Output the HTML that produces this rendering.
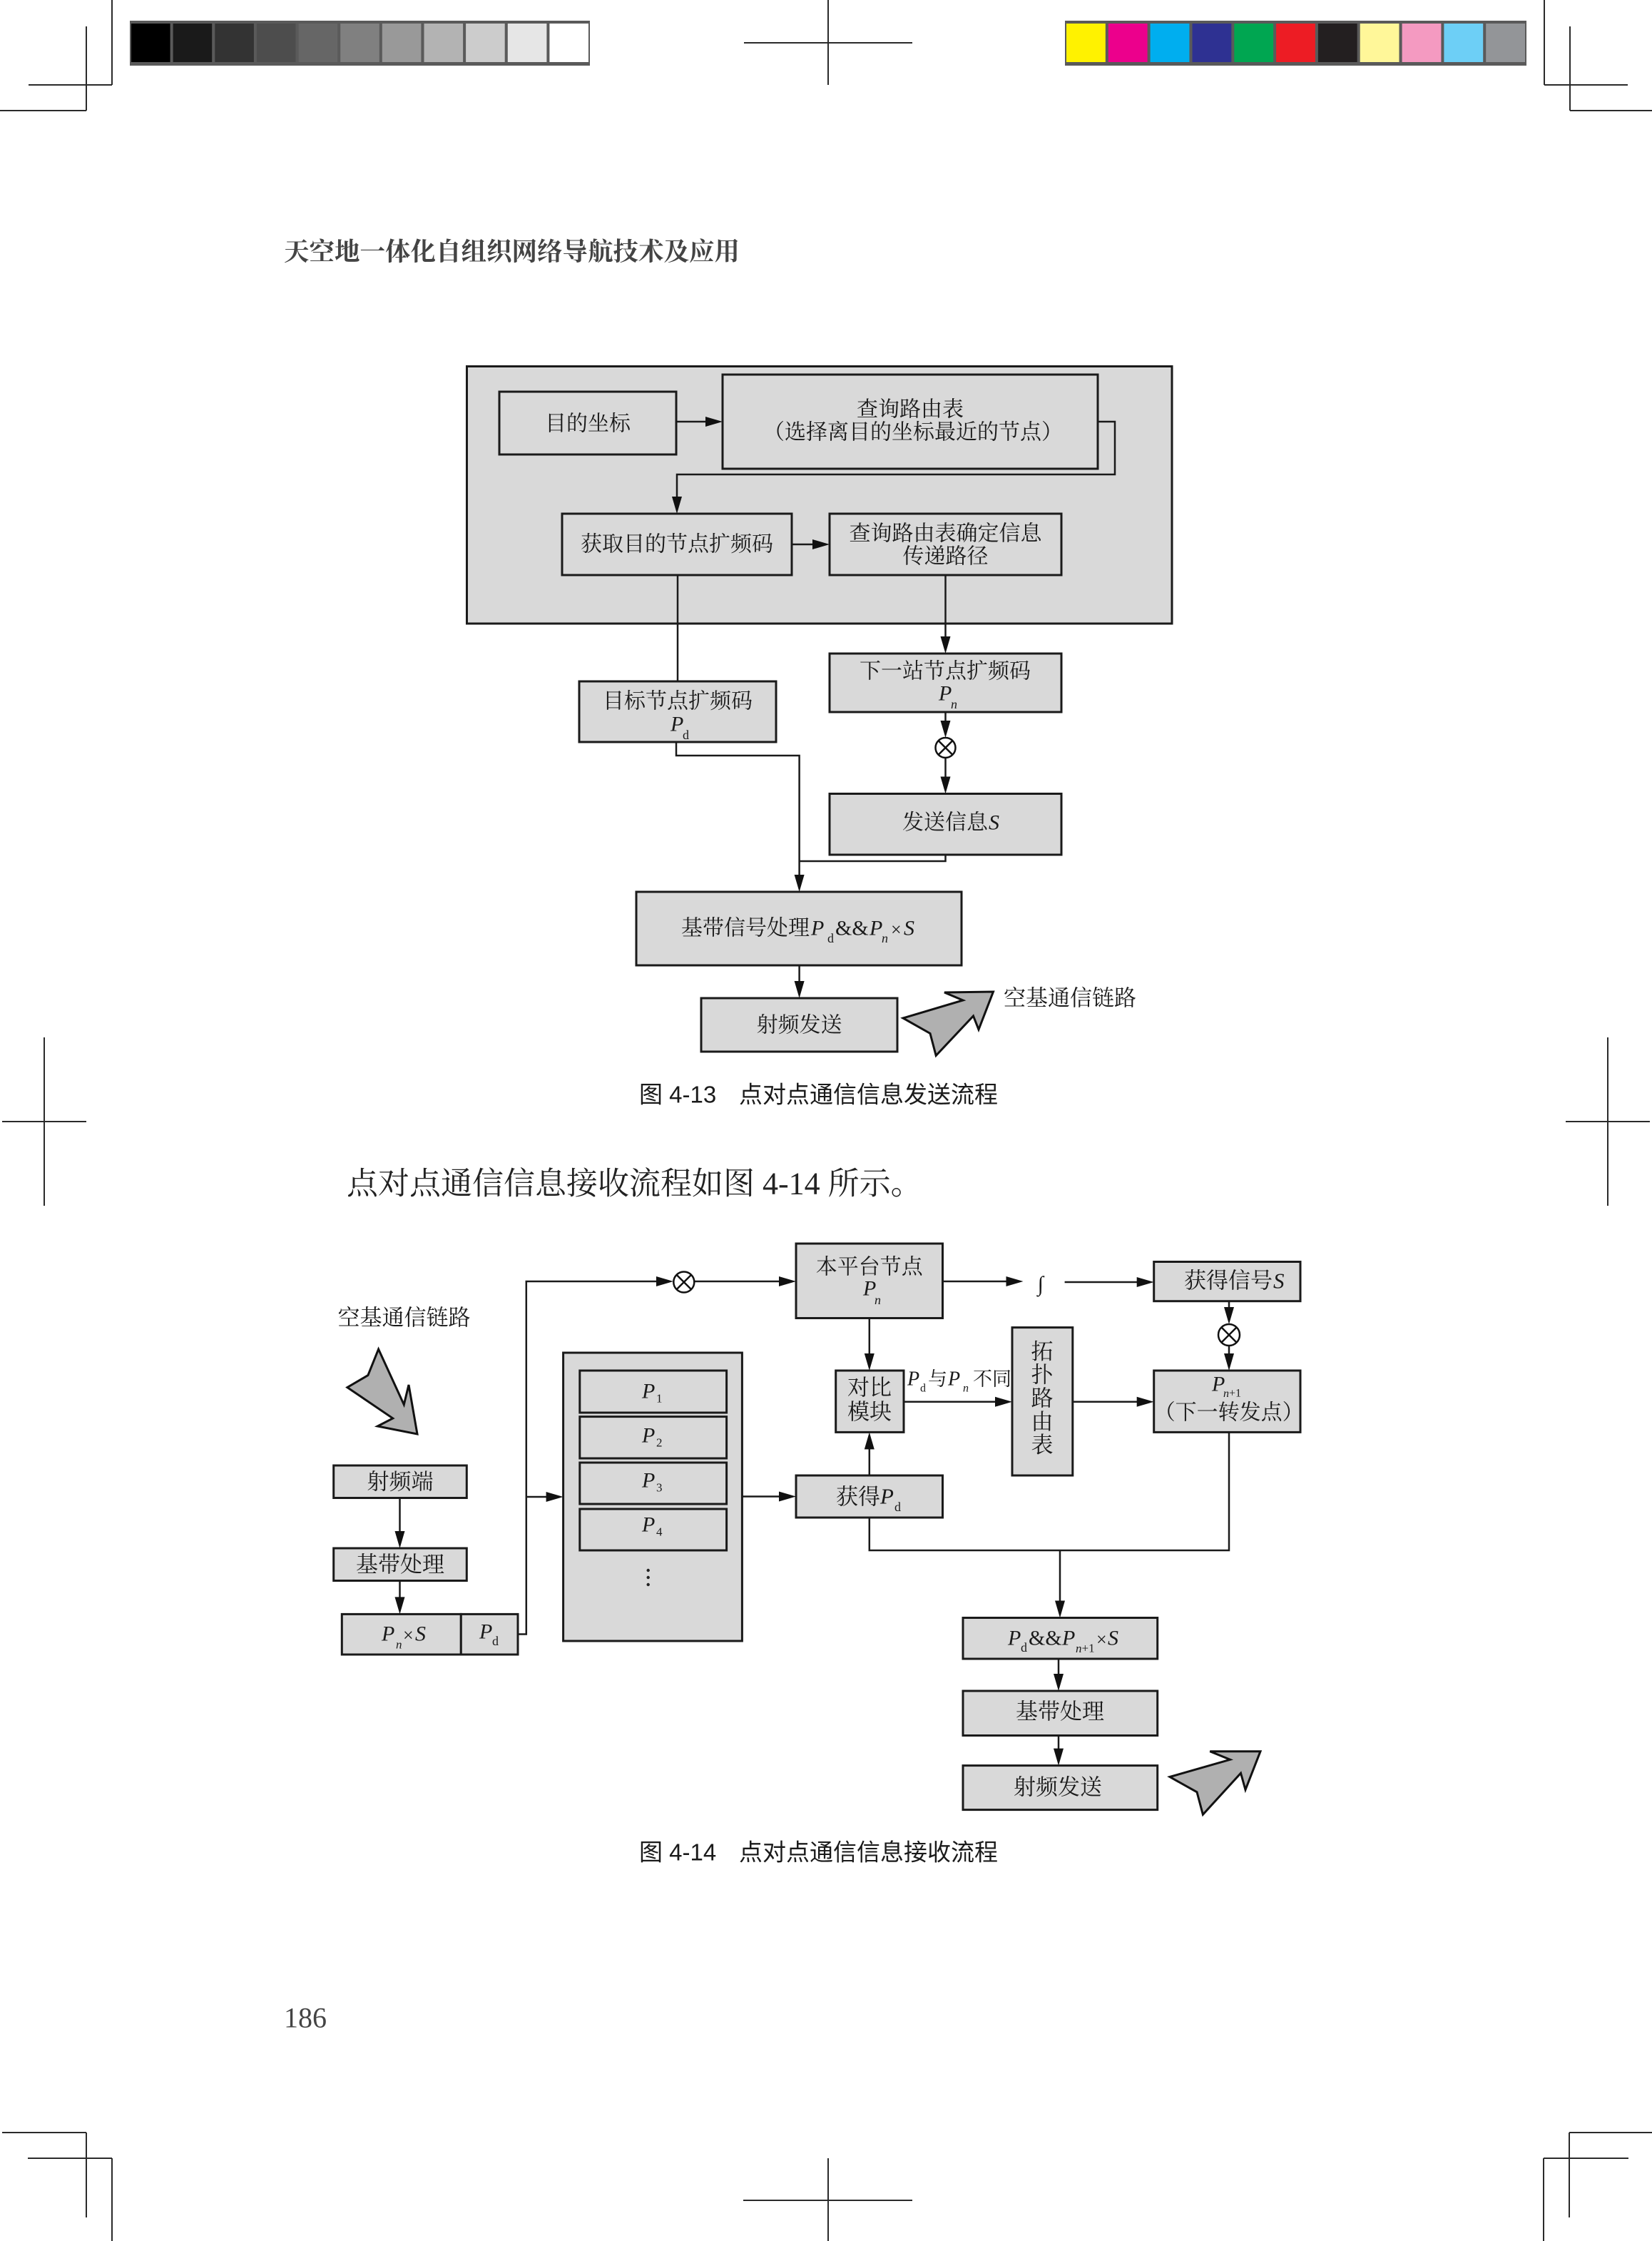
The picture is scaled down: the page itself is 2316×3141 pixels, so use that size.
<!DOCTYPE html>
<html><head><meta charset="utf-8">
<style>
html,body{margin:0;padding:0;background:#fff;}
svg{display:block;}
.t{font-family:"Liberation Serif","Noto Serif CJK SC",serif;fill:#1a1a1a;}
.i{font-family:"Liberation Serif",serif;font-style:italic;fill:#1a1a1a;}
.s{font-family:"Liberation Serif",serif;fill:#1a1a1a;}
.cap{font-family:"Liberation Sans","Noto Sans CJK SC",sans-serif;fill:#1a1a1a;}
</style></head><body>
<svg width="2316" height="3141" viewBox="0 0 2316 3141" xmlns="http://www.w3.org/2000/svg">
<rect x="0" y="0" width="2316" height="3141" fill="#fff"/>

<!-- crop marks -->
<g stroke="#2a2a2a" stroke-width="2" fill="none">
  <line x1="157" y1="0" x2="157" y2="119"/>
  <line x1="40" y1="119" x2="157" y2="119"/>
  <line x1="121" y1="37" x2="121" y2="155"/>
  <line x1="0" y1="155" x2="121" y2="155"/>
  <line x1="1161" y1="0" x2="1161" y2="119"/>
  <line x1="1043" y1="60" x2="1279" y2="60"/>
  <line x1="2165" y1="0" x2="2165" y2="119"/>
  <line x1="2165" y1="119" x2="2282" y2="119"/>
  <line x1="2201" y1="37" x2="2201" y2="155"/>
  <line x1="2201" y1="155" x2="2316" y2="155"/>
  <line x1="3" y1="2989" x2="121" y2="2989"/>
  <line x1="121" y1="2989" x2="121" y2="3108"/>
  <line x1="39" y1="3025" x2="157" y2="3025"/>
  <line x1="157" y1="3025" x2="157" y2="3141"/>
  <line x1="2200" y1="2989" x2="2316" y2="2989"/>
  <line x1="2200" y1="2989" x2="2200" y2="3108"/>
  <line x1="2164" y1="3025" x2="2283" y2="3025"/>
  <line x1="2164" y1="3025" x2="2164" y2="3141"/>
  <line x1="1161" y1="3025" x2="1161" y2="3141"/>
  <line x1="1042" y1="3084" x2="1279" y2="3084"/>
  <line x1="62" y1="1454" x2="62" y2="1690"/>
  <line x1="3" y1="1572" x2="121" y2="1572"/>
  <line x1="2254" y1="1454" x2="2254" y2="1690"/>
  <line x1="2195" y1="1572" x2="2313" y2="1572"/>
</g>

<!-- gray bar -->
<rect x="182" y="29" width="645" height="63" fill="#5a5a5a"/>
<rect x="184" y="33" width="54.6" height="54" fill="#000"/>
<rect x="242.6" y="33" width="54.6" height="54" fill="#1a1a1a"/>
<rect x="301.3" y="33" width="54.6" height="54" fill="#333"/>
<rect x="359.9" y="33" width="54.6" height="54" fill="#4d4d4d"/>
<rect x="418.6" y="33" width="54.6" height="54" fill="#666"/>
<rect x="477.2" y="33" width="54.6" height="54" fill="#808080"/>
<rect x="535.8" y="33" width="54.6" height="54" fill="#999"/>
<rect x="594.5" y="33" width="54.6" height="54" fill="#b3b3b3"/>
<rect x="653.1" y="33" width="54.6" height="54" fill="#ccc"/>
<rect x="711.8" y="33" width="54.6" height="54" fill="#e6e6e6"/>
<rect x="770.4" y="33" width="54.6" height="54" fill="#fff"/>

<!-- color bar -->
<rect x="1493" y="29" width="647" height="63" fill="#5a5a5a"/>
<rect x="1495" y="33" width="54.8" height="54" fill="#fff200"/>
<rect x="1553.8" y="33" width="54.8" height="54" fill="#ec008c"/>
<rect x="1612.6" y="33" width="54.8" height="54" fill="#00aeef"/>
<rect x="1671.5" y="33" width="54.8" height="54" fill="#2e3192"/>
<rect x="1730.3" y="33" width="54.8" height="54" fill="#00a651"/>
<rect x="1789.1" y="33" width="54.8" height="54" fill="#ed1c24"/>
<rect x="1847.9" y="33" width="54.8" height="54" fill="#231f20"/>
<rect x="1906.7" y="33" width="54.8" height="54" fill="#fff799"/>
<rect x="1965.6" y="33" width="54.8" height="54" fill="#f49ac1"/>
<rect x="2024.4" y="33" width="54.8" height="54" fill="#6dcff6"/>
<rect x="2083.2" y="33" width="54.8" height="54" fill="#939598"/>

<!-- header -->
<text x="398" y="350" dominant-baseline="central" font-family="'Noto Serif CJK SC',serif" font-weight="700" font-size="35.5" fill="#444">天空地一体化自组织网络导航技术及应用</text>

<!-- ============ Diagram 1 ============ -->
<rect x="654.5" y="513.5" width="988.5" height="360.5" fill="#d9d9d9" stroke="#1a1a1a" stroke-width="3"/>
<g fill="#d9d9d9" stroke="#1a1a1a" stroke-width="3">
  <rect x="700" y="549" width="248" height="88"/>
  <rect x="1013" y="525" width="526" height="132"/>
  <rect x="788" y="720" width="322" height="86"/>
  <rect x="1163" y="720" width="325" height="86"/>
  <rect x="812" y="955" width="276" height="85"/>
  <rect x="1163" y="916" width="325" height="82"/>
  <rect x="1163" y="1112.5" width="325" height="85.5"/>
  <rect x="892" y="1250" width="456" height="103"/>
  <rect x="983" y="1399" width="275" height="75"/>
</g>
<g stroke="#1a1a1a" stroke-width="2.5" fill="none">
  <line x1="948" y1="591" x2="995" y2="591"/>
  <polyline points="1539,591 1563,591 1563,665 949,665 949,700"/>
  <line x1="1110" y1="763" x2="1145" y2="763"/>
  <line x1="950" y1="806" x2="950" y2="955"/>
  <line x1="1325.5" y1="806" x2="1325.5" y2="898"/>
  <line x1="1325.5" y1="998" x2="1325.5" y2="1020"/>
  <line x1="1325.5" y1="1062" x2="1325.5" y2="1094"/>
  <polyline points="948,1040 948,1059 1120.6,1059 1120.6,1232"/>
  <polyline points="1325.5,1198 1325.5,1207 1120.6,1207"/>
  <line x1="1120.6" y1="1353" x2="1120.6" y2="1381"/>
</g>
<g fill="#111">
  <polygon points="1013,591 989,584 989,598"/>
  <polygon points="949,720 942,696 956,696"/>
  <polygon points="1163,763 1139,756 1139,770"/>
  <polygon points="1325.5,916 1318.5,892 1332.5,892"/>
  <polygon points="1325.5,1034 1318.5,1010 1332.5,1010"/>
  <polygon points="1325.5,1112.5 1318.5,1088.5 1332.5,1088.5"/>
  <polygon points="1120.6,1250 1113.6,1226 1127.6,1226"/>
  <polygon points="1120.6,1399 1113.6,1375 1127.6,1375"/>
</g>
<!-- otimes d1 -->
<g stroke="#111" stroke-width="2.5" fill="#fff">
  <circle cx="1325.5" cy="1048" r="14"/>
  <line x1="1315.6" y1="1038.1" x2="1335.4" y2="1057.9"/>
  <line x1="1335.4" y1="1038.1" x2="1315.6" y2="1057.9"/>
</g>
<!-- big arrow d1 -->
<polygon points="1266,1427 1350,1402 1324,1391 1392.5,1390 1372,1443 1364.5,1424 1312.2,1479.5 1304,1448.5" fill="#b0b0b0" stroke="#111" stroke-width="3" stroke-linejoin="miter"/>

<!-- d1 texts -->
<g class="t" font-size="30" dominant-baseline="central">
  <text x="824" y="594" text-anchor="middle">目的坐标</text>
  <text x="1276" y="574" text-anchor="middle">查询路由表</text>
  <text x="1280" y="606" text-anchor="middle">（选择离目的坐标最近的节点）</text>
  <text x="949" y="763" text-anchor="middle">获取目的节点扩频码</text>
  <text x="1325.5" y="748" text-anchor="middle">查询路由表确定信息</text>
  <text x="1325.5" y="780" text-anchor="middle">传递路径</text>
  <text x="950" y="983" text-anchor="middle">目标节点扩频码</text>
  <text x="1325" y="941" text-anchor="middle">下一站节点扩频码</text>
  <text x="1265" y="1153">发送信息</text>
  <text x="955" y="1301">基带信号处理</text>
  <text x="1120.6" y="1437" text-anchor="middle">射频发送</text>
  <text x="1407" y="1399" font-size="31">空基通信链路</text>
</g>
<g dominant-baseline="central">
  <text class="i" x="940" y="1015" font-size="30">P</text>
  <text class="s" x="957" y="1030" font-size="18">d</text>
  <text class="i" x="1316" y="972" font-size="30">P</text>
  <text class="i" x="1333" y="987" font-size="18">n</text>
  <text class="i" x="1386" y="1153" font-size="30">S</text>
  <text class="i" x="1137" y="1301" font-size="30">P</text>
  <text class="s" x="1160" y="1315" font-size="18">d</text>
  <text class="s" x="1171" y="1301" font-size="30">&amp;&amp;</text>
  <text class="i" x="1219" y="1301" font-size="30">P</text>
  <text class="i" x="1236" y="1315" font-size="18">n</text>
  <text class="s" x="1249" y="1303" font-size="26">×</text>
  <text class="i" x="1267" y="1301" font-size="30">S</text>
</g>

<!-- caption 1 -->
<text class="cap" x="896" y="1534" font-size="33" dominant-baseline="central">图 4-13</text>
<text class="cap" x="1036" y="1534" font-size="33" dominant-baseline="central">点对点通信信息发送流程</text>

<!-- paragraph -->
<text x="486" y="1659" font-size="44" dominant-baseline="central" font-family="'Liberation Serif','Noto Serif CJK SC',serif" fill="#222">点对点通信信息接收流程如图 4-14 所示。</text>

<!-- ============ Diagram 2 ============ -->
<g fill="#d9d9d9" stroke="#1a1a1a" stroke-width="3">
  <rect x="1116" y="1743" width="205.5" height="104.5"/>
  <rect x="1617.7" y="1768.5" width="205.3" height="55.2"/>
  <rect x="1617.7" y="1921" width="205.3" height="86.4"/>
  <rect x="1171.7" y="1921" width="95.3" height="86.4"/>
  <rect x="1419" y="1860.6" width="84.8" height="207.4"/>
  <rect x="1116" y="2068" width="205.5" height="59"/>
  <rect x="1350" y="2267.5" width="272.7" height="57.5"/>
  <rect x="1350" y="2370" width="272.7" height="62.5"/>
  <rect x="1350" y="2474.6" width="272.7" height="62"/>
  <rect x="467.7" y="2054" width="186.6" height="45.5"/>
  <rect x="467.7" y="2170" width="186.6" height="45.5"/>
  <rect x="479.3" y="2262.4" width="167" height="56.6"/>
  <rect x="646.3" y="2262.4" width="79.7" height="56.6"/>
  <rect x="789.6" y="1896" width="250.8" height="404"/>
  <rect x="812.8" y="1921" width="205.8" height="59"/>
  <rect x="812.8" y="1985.6" width="205.8" height="58.4"/>
  <rect x="812.8" y="2050" width="205.8" height="58"/>
  <rect x="812.8" y="2115" width="205.8" height="58"/>
</g>
<g stroke="#1a1a1a" stroke-width="2.5" fill="none">
  <polyline points="726,2290.5 737.8,2290.5 737.8,1796 926,1796"/>
  <line x1="973" y1="1796" x2="1096" y2="1796"/>
  <line x1="737.8" y1="2098" x2="771" y2="2098"/>
  <line x1="1040.4" y1="2097.5" x2="1098" y2="2097.5"/>
  <line x1="1321.5" y1="1796" x2="1416" y2="1796"/>
  <line x1="1492.6" y1="1797" x2="1600" y2="1797"/>
  <line x1="1723" y1="1823.7" x2="1723" y2="1838"/>
  <line x1="1723" y1="1886" x2="1723" y2="1903"/>
  <line x1="1218.8" y1="1847.5" x2="1218.8" y2="1903"/>
  <line x1="1267" y1="1964.8" x2="1401" y2="1964.8"/>
  <line x1="1503.8" y1="1964.8" x2="1600" y2="1964.8"/>
  <line x1="1218.8" y1="2068" x2="1218.8" y2="2025"/>
  <polyline points="1218.8,2127 1218.8,2173 1723,2173 1723,2007.4"/>
  <line x1="1486" y1="2173" x2="1486" y2="2250"/>
  <line x1="1484" y1="2325" x2="1484" y2="2352"/>
  <line x1="1484" y1="2432.5" x2="1484" y2="2457"/>
  <line x1="560.5" y1="2099.5" x2="560.5" y2="2152"/>
  <line x1="560.5" y1="2215.5" x2="560.5" y2="2244"/>
</g>
<g fill="#111">
  <polygon points="944,1796 920,1789 920,1803"/>
  <polygon points="1116,1796 1092,1789 1092,1803"/>
  <polygon points="789.6,2098 765.6,2091 765.6,2105"/>
  <polygon points="1116,2097.5 1092,2090.5 1092,2104.5"/>
  <polygon points="1434.5,1796 1410.5,1789 1410.5,1803"/>
  <polygon points="1617.7,1797 1593.7,1790 1593.7,1804"/>
  <polygon points="1723,1856 1716,1832 1730,1832"/>
  <polygon points="1723,1921 1716,1897 1730,1897"/>
  <polygon points="1218.8,1921 1211.8,1897 1225.8,1897"/>
  <polygon points="1419,1964.8 1395,1957.8 1395,1971.8"/>
  <polygon points="1617.7,1964.8 1593.7,1957.8 1593.7,1971.8"/>
  <polygon points="1218.8,2007.4 1211.8,2031.4 1225.8,2031.4"/>
  <polygon points="1486,2267.5 1479,2243.5 1493,2243.5"/>
  <polygon points="1484,2370 1477,2346 1491,2346"/>
  <polygon points="1484,2474.6 1477,2450.6 1491,2450.6"/>
  <polygon points="560.5,2170 553.5,2146 567.5,2146"/>
  <polygon points="560.5,2262.4 553.5,2238.4 567.5,2238.4"/>
</g>
<g stroke="#111" stroke-width="2.5" fill="#fff">
  <circle cx="958.8" cy="1797" r="14.5"/>
  <line x1="948.5" y1="1786.7" x2="969.1" y2="1807.3"/>
  <line x1="969.1" y1="1786.7" x2="948.5" y2="1807.3"/>
  <circle cx="1723" cy="1871" r="15"/>
  <line x1="1712.4" y1="1860.4" x2="1733.6" y2="1881.6"/>
  <line x1="1733.6" y1="1860.4" x2="1712.4" y2="1881.6"/>
</g>
<!-- arrows d2 -->
<polygon points="530.6,1891 566.3,1968.7 573,1941 585,2010 529.3,1999 550.7,1987.9 486.9,1944.6 515.9,1927.6" fill="#b0b0b0" stroke="#111" stroke-width="3" stroke-linejoin="miter"/>
<polygon points="1640,2490.5 1724.5,2466.3 1696.3,2454.7 1767,2454.7 1746,2508.5 1739.5,2485.2 1686.4,2543.3 1678,2511.8" fill="#b0b0b0" stroke="#111" stroke-width="3" stroke-linejoin="miter"/>

<!-- dots -->
<g fill="#222">
  <circle cx="908.7" cy="2201" r="2.2"/>
  <circle cx="908.7" cy="2211" r="2.2"/>
  <circle cx="908.7" cy="2221" r="2.2"/>
</g>

<!-- d2 texts -->
<g class="t" font-size="31" dominant-baseline="central">
  <text x="473.5" y="1847">空基通信链路</text>
  <text x="1218.8" y="1776" text-anchor="middle" font-size="30">本平台节点</text>
  <text x="1660" y="1795">获得信号</text>
  <text x="1722.7" y="1980" text-anchor="middle" font-size="30">（下一转发点）</text>
  <text x="1219" y="1945" text-anchor="middle">对比</text>
  <text x="1219" y="1979" text-anchor="middle">模块</text>
  <text x="1461" y="1894.5" text-anchor="middle">拓</text>
  <text x="1461" y="1927" text-anchor="middle">扑</text>
  <text x="1461" y="1960" text-anchor="middle">路</text>
  <text x="1461" y="1993" text-anchor="middle">由</text>
  <text x="1461" y="2025.5" text-anchor="middle">表</text>
  <text x="1172" y="2098">获得</text>
  <text x="1486" y="2399" text-anchor="middle">基带处理</text>
  <text x="1483" y="2505" text-anchor="middle">射频发送</text>
  <text x="561" y="2077" text-anchor="middle">射频端</text>
  <text x="561" y="2193" text-anchor="middle">基带处理</text>
  <text x="1301" y="1933" font-size="27">与</text>
  <text x="1364" y="1933" font-size="27">不同</text>
</g>
<g dominant-baseline="central">
  <text class="i" x="1210" y="1806" font-size="30">P</text>
  <text class="i" x="1226" y="1822" font-size="18">n</text>
  <text class="s" x="1458.7" y="1800" font-size="30" text-anchor="middle">∫</text>
  <text class="i" x="1785" y="1795" font-size="31">S</text>
  <text class="i" x="1699" y="1940" font-size="30">P</text>
  <text class="s" x="1715" y="1953" font-size="16"><tspan font-style="italic">n</tspan>+1</text>
  <text class="i" x="1272" y="1933" font-size="28">P</text>
  <text class="s" x="1290" y="1946" font-size="16">d</text>
  <text class="i" x="1329" y="1933" font-size="28">P</text>
  <text class="i" x="1350" y="1946" font-size="16">n</text>
  <text class="i" x="1234" y="2097" font-size="31">P</text>
  <text class="s" x="1254" y="2112" font-size="18">d</text>
  <text class="i" x="1413" y="2296" font-size="30">P</text>
  <text class="s" x="1431" y="2309" font-size="18">d</text>
  <text class="s" x="1442" y="2296" font-size="30">&amp;&amp;</text>
  <text class="i" x="1489" y="2296" font-size="30">P</text>
  <text class="s" x="1508" y="2310" font-size="17"><tspan font-style="italic">n</tspan>+1</text>
  <text class="s" x="1537" y="2298" font-size="26">×</text>
  <text class="i" x="1553" y="2296" font-size="30">S</text>
  <text class="i" x="535" y="2290" font-size="30">P</text>
  <text class="i" x="555" y="2305" font-size="17">n</text>
  <text class="s" x="565" y="2292" font-size="26">×</text>
  <text class="i" x="582" y="2290" font-size="30">S</text>
  <text class="i" x="672" y="2287" font-size="30">P</text>
  <text class="s" x="690" y="2300" font-size="18">d</text>
  <text class="i" x="900" y="1950" font-size="30">P</text>
  <text class="s" x="920" y="1960" font-size="17">1</text>
  <text class="i" x="900" y="2012" font-size="30">P</text>
  <text class="s" x="920" y="2022" font-size="17">2</text>
  <text class="i" x="900" y="2075" font-size="30">P</text>
  <text class="s" x="920" y="2085" font-size="17">3</text>
  <text class="i" x="900" y="2137" font-size="30">P</text>
  <text class="s" x="920" y="2147" font-size="17">4</text>
</g>

<!-- caption 2 -->
<text class="cap" x="896" y="2596" font-size="33" dominant-baseline="central">图 4-14</text>
<text class="cap" x="1036" y="2596" font-size="33" dominant-baseline="central">点对点通信信息接收流程</text>

<!-- page number -->
<text x="398" y="2828" font-size="40" dominant-baseline="central" font-family="'Liberation Serif',serif" fill="#444">186</text>
</svg>
</body></html>
